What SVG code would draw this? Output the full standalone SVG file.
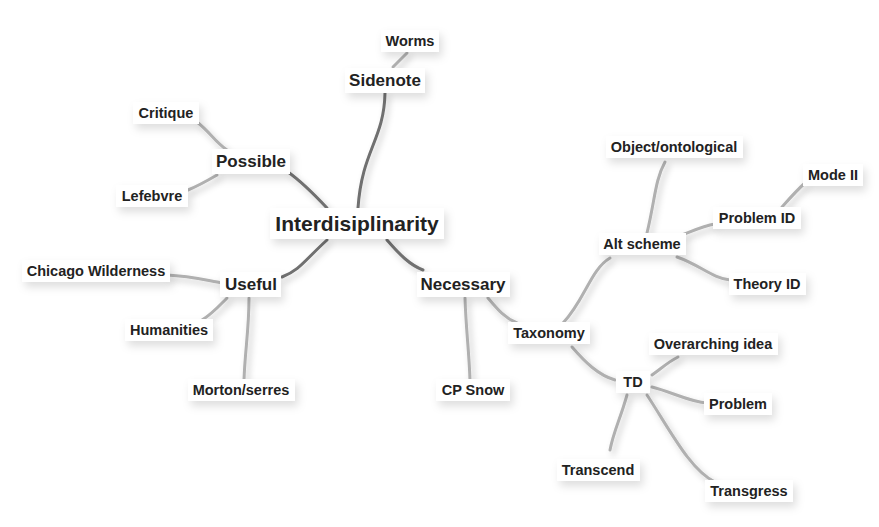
<svg xmlns="http://www.w3.org/2000/svg" width="879" height="527" viewBox="0 0 879 527">
<style>
text{font-family:"Liberation Sans",Arial,sans-serif;font-weight:bold;fill:#222;text-anchor:middle;dominant-baseline:central}
.root{font-size:21px}
.main{font-size:17px}
.leaf{font-size:14.5px}
.box{fill:#fff}
.c{fill:none;stroke-linecap:round}
.m{stroke:#6f6f6f;stroke-width:3}
.l{stroke:#b0b0b0;stroke-width:3}
</style>
<defs>
<filter id="sh" x="-20%" y="-20%" width="140%" height="160%">
<feDropShadow dx="3" dy="4" stdDeviation="3" flood-color="#000" flood-opacity="0.22"/>
</filter>
<filter id="bs" x="-30%" y="-40%" width="160%" height="200%">
<feDropShadow dx="3" dy="5" stdDeviation="4" flood-color="#000" flood-opacity="0.13"/>
</filter>
</defs>
<rect width="879" height="527" fill="#fff"/>
<g id="connectors" filter="url(#sh)">
<path class="c m" d="M358,208 C362,150 384,140 385,93"/>
<path class="c m" d="M327,208 C312,192 302,182 288,172"/>
<path class="c m" d="M327,240 C305,260 300,270 282,277"/>
<path class="c m" d="M387,240 C400,255 410,265 423,270"/>
<path class="c l" d="M393,67 C398,62 402,58 407,53"/>
<path class="c l" d="M197,122 C210,132 215,142 227,150"/>
<path class="c l" d="M217,175 C205,182 198,186 188,190"/>
<path class="c l" d="M167,275 C190,276 205,280 222,283"/>
<path class="c l" d="M227,298 C218,307 212,314 202,320"/>
<path class="c l" d="M249,298 C249,330 245,350 244,380"/>
<path class="c l" d="M465,298 C466,330 469,350 470,380"/>
<path class="c l" d="M488,298 C498,310 505,318 517,323"/>
<path class="c l" d="M563,323 C585,300 590,270 610,258"/>
<path class="c l" d="M572,347 C585,362 598,375 615,380"/>
<path class="c l" d="M647,233 C655,200 655,180 665,162"/>
<path class="c l" d="M682,235 C695,230 703,226 715,224"/>
<path class="c l" d="M782,207 C790,198 797,190 805,183"/>
<path class="c l" d="M677,257 C700,265 712,278 730,280"/>
<path class="c l" d="M652,375 C662,368 668,362 678,357"/>
<path class="c l" d="M652,387 C672,392 690,402 707,403"/>
<path class="c l" d="M627,395 C620,420 614,430 610,450"/>
<path class="c l" d="M647,395 C670,430 690,470 715,482"/>
</g>
<g id="n-root"><rect class="box" filter="url(#bs)" x="270" y="208" width="174" height="31"/><text class="root" x="357" y="223">Interdisiplinarity</text></g>
<g id="n-sidenote"><rect class="box" filter="url(#bs)" x="345" y="68" width="80" height="25"/><text class="main" x="385" y="80">Sidenote</text></g>
<g id="n-possible"><rect class="box" filter="url(#bs)" x="212" y="149" width="78" height="25"/><text class="main" x="251" y="161">Possible</text></g>
<g id="n-useful"><rect class="box" filter="url(#bs)" x="220" y="272" width="61" height="25"/><text class="main" x="251" y="284">Useful</text></g>
<g id="n-necessary"><rect class="box" filter="url(#bs)" x="417" y="272" width="93" height="25"/><text class="main" x="463" y="284">Necessary</text></g>
<g id="n-worms"><rect class="box" filter="url(#bs)" x="381" y="30" width="58" height="22"/><text class="leaf" x="410" y="41">Worms</text></g>
<g id="n-critique"><rect class="box" filter="url(#bs)" x="133" y="102" width="66" height="22"/><text class="leaf" x="166" y="113">Critique</text></g>
<g id="n-lefebvre"><rect class="box" filter="url(#bs)" x="116" y="185" width="72" height="22"/><text class="leaf" x="152" y="196">Lefebvre</text></g>
<g id="n-chicago"><rect class="box" filter="url(#bs)" x="22" y="260" width="148" height="22"/><text class="leaf" x="96" y="271">Chicago Wilderness</text></g>
<g id="n-humanities"><rect class="box" filter="url(#bs)" x="125" y="319" width="88" height="22"/><text class="leaf" x="169" y="330">Humanities</text></g>
<g id="n-morton"><rect class="box" filter="url(#bs)" x="188" y="379" width="107" height="22"/><text class="leaf" x="241" y="390">Morton/serres</text></g>
<g id="n-cpsnow"><rect class="box" filter="url(#bs)" x="436" y="379" width="74" height="22"/><text class="leaf" x="473" y="390">CP Snow</text></g>
<g id="n-taxonomy"><rect class="box" filter="url(#bs)" x="508" y="322" width="82" height="22"/><text class="leaf" x="549" y="333">Taxonomy</text></g>
<g id="n-alt"><rect class="box" filter="url(#bs)" x="599" y="233" width="87" height="22"/><text class="leaf" x="642" y="244">Alt scheme</text></g>
<g id="n-object"><rect class="box" filter="url(#bs)" x="606" y="136" width="137" height="22"/><text class="leaf" x="674" y="147">Object/ontological</text></g>
<g id="n-problemid"><rect class="box" filter="url(#bs)" x="713" y="207" width="88" height="22"/><text class="leaf" x="757" y="218">Problem ID</text></g>
<g id="n-mode2"><rect class="box" filter="url(#bs)" x="803" y="164" width="60" height="22"/><text class="leaf" x="833" y="175">Mode II</text></g>
<g id="n-theory"><rect class="box" filter="url(#bs)" x="729" y="273" width="77" height="22"/><text class="leaf" x="767" y="284">Theory ID</text></g>
<g id="n-td"><rect class="box" filter="url(#bs)" x="616" y="371" width="34" height="22"/><text class="leaf" x="633" y="382">TD</text></g>
<g id="n-overarching"><rect class="box" filter="url(#bs)" x="649" y="333" width="129" height="22"/><text class="leaf" x="713" y="344">Overarching idea</text></g>
<g id="n-problem"><rect class="box" filter="url(#bs)" x="704" y="393" width="68" height="22"/><text class="leaf" x="738" y="404">Problem</text></g>
<g id="n-transcend"><rect class="box" filter="url(#bs)" x="557" y="459" width="83" height="22"/><text class="leaf" x="598" y="470">Transcend</text></g>
<g id="n-transgress"><rect class="box" filter="url(#bs)" x="705" y="480" width="88" height="22"/><text class="leaf" x="749" y="491">Transgress</text></g>
</svg>
